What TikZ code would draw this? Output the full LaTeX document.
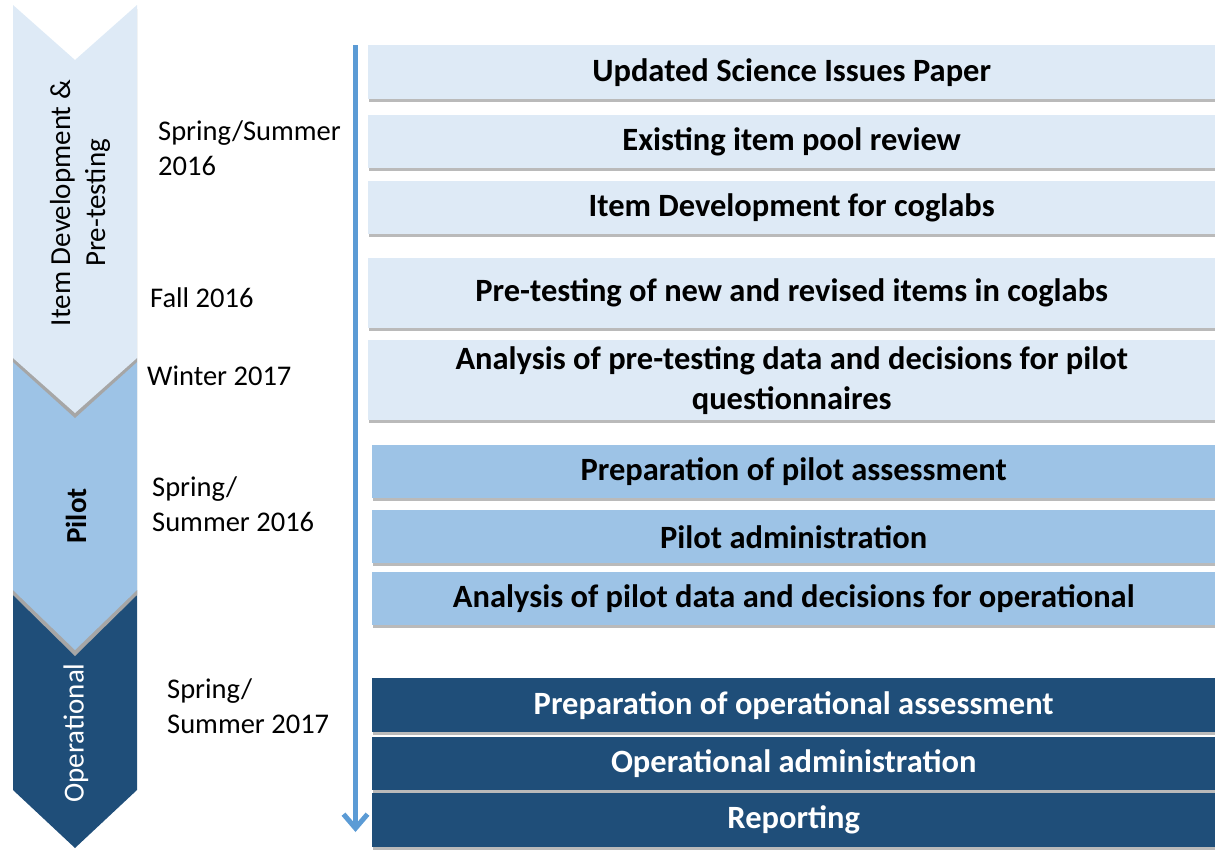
\documentclass[tikz,border=0pt]{standalone}
\usepackage{fontspec}
\setmainfont{Carlito}
\usetikzlibrary{shadows,arrows.meta}
\definecolor{lightb}{HTML}{DEEAF6}
\definecolor{midb}{HTML}{9DC3E6}
\definecolor{darkb}{HTML}{1F4E79}
\definecolor{arrowb}{HTML}{5B9BD5}
\definecolor{shadowg}{HTML}{A6A6A6}
\begin{document}
\begin{tikzpicture}[x=1pt,y=-1pt,
  stepbox/.style={rectangle, anchor=north west, inner sep=0pt, minimum height=#1,
    font=\fontsize{32.5}{40}\selectfont\bfseries, align=center,
    drop shadow={shadow xshift=1pt, shadow yshift=-3pt, fill=black!45, opacity=0.6}},
  lbox/.style={stepbox=#1, fill=lightb, minimum width=847pt},
  mbox/.style={stepbox=#1, fill=midb, minimum width=843pt},
  dbox/.style={stepbox=#1, fill=darkb, minimum width=843pt, text=white},
  datelbl/.style={anchor=west, align=left, font=\fontsize{28.5}{35}\selectfont, inner sep=0pt},
  phaselbl/.style={rotate=90, align=center, font=\fontsize{29}{35}\selectfont, inner sep=0pt}]
\useasboundingbox (0,0) rectangle (1215,852);

% chevrons
\fill[darkb] (13,590) -- (75,650) -- (137,590) -- (137,790) -- (75,848) -- (13,790) -- cycle;
\fill[shadowg] (13,362) -- (75,417) -- (137,362) -- (137,595) -- (75,656) -- (13,595) -- cycle;
\fill[midb] (13,358) -- (75,413) -- (137,358) -- (137,590) -- (75,650) -- (13,590) -- cycle;
\fill[shadowg] (13,9) -- (75,64) -- (137,9) -- (137,362) -- (75,418) -- (13,362) -- cycle;
\fill[lightb] (13,5) -- (75,60) -- (137,5) -- (137,358) -- (75,413) -- (13,358) -- cycle;

\node[phaselbl] (p1) at (80,203) {Item Development \&\\Pre-testing};
\node[phaselbl, font=\fontsize{29}{35}\selectfont\bfseries] (p2) at (76,516) {Pilot};
\node[phaselbl, text=white] (p3) at (76,733) {Operational};

% dates
\node[datelbl] (d1) at (158,148) {Spring/Summer\\2016};
\node[datelbl] (d2) at (150,298) {Fall 2016};
\node[datelbl] (d3) at (147,376) {Winter 2017};
\node[datelbl] (d4) at (152,504) {Spring/\\Summer 2016};
\node[datelbl] (d5) at (167,706) {Spring/\\Summer 2017};

% timeline arrow
\coordinate (astart) at (355.5,45);
\coordinate (aend) at (355.5,832);
\draw[arrowb, line width=5pt, -{Straight Barb[length=14pt,width=24pt,line width=5pt]}] (astart) -- (aend);

% boxes
\node[lbox=54pt] (b1) at (368,45) {Updated Science Issues Paper};
\node[lbox=53pt] (b2) at (368,115) {Existing item pool review};
\node[lbox=53pt] (b3) at (368,181) {Item Development for coglabs};
\node[lbox=70pt] (b4) at (368,258) {Pre-testing of new and revised items in coglabs};
\node[lbox=80pt] (b5) at (368,340) {Analysis of pre-testing data and decisions for pilot\\questionnaires\vphantom{p}};
\node[mbox=53pt] (b6) at (372,445) {Preparation of pilot assessment};
\node[mbox=53pt] (b7) at (372,510) {Pilot administration};
\node[mbox=53pt] (b8) at (372,572) {Analysis of pilot data and decisions for operational};
\node[dbox=54pt] (b9) at (372,678) {Preparation of operational assessment};
\node[dbox=53pt] (b10) at (372,737) {Operational administration};
\node[dbox=54pt] (b11) at (372,793) {Reporting};
\end{tikzpicture}
\end{document}
